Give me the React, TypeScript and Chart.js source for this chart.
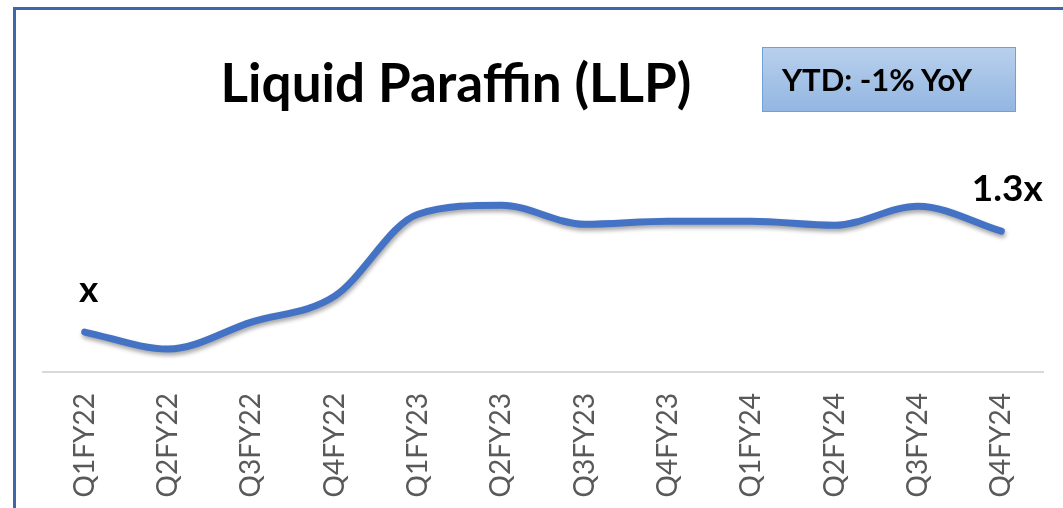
import React, { useEffect, useRef } from "react";
import { Chart, registerables } from "chart.js";

Chart.register(...registerables);

const categories = [
  "Q1FY22", "Q2FY22", "Q3FY22", "Q4FY22",
  "Q1FY23", "Q2FY23", "Q3FY23", "Q4FY23",
  "Q1FY24", "Q2FY24", "Q3FY24", "Q4FY24",
];
const values = [1.0, 0.949, 1.03, 1.108, 1.354, 1.381, 1.324, 1.333, 1.333, 1.321, 1.378, 1.303];
const pointLabels = ["x", "", "", "", "", "", "", "", "", "", "", "1.3x"];
const titleText = "Liquid Paraffin (LLP)";
const badgeText = "YTD: -1% YoY";

const FONT = "Lato, 'Open Sans', sans-serif";

const shadowPlugin = {
  id: "lineShadow",
  beforeDatasetsDraw(chart: any) {
    const ctx = chart.ctx;
    ctx.save();
    ctx.shadowColor = "rgba(0,0,0,0.35)";
    ctx.shadowBlur = 4;
    ctx.shadowOffsetX = 1;
    ctx.shadowOffsetY = 3;
  },
  afterDatasetsDraw(chart: any) {
    chart.ctx.restore();
  },
};

const labelPlugin = {
  id: "pointLabels",
  afterDraw(chart: any) {
    const ctx = chart.ctx;
    const meta = chart.getDatasetMeta(0);
    ctx.save();
    ctx.fillStyle = "#000";
    ctx.font = `bold 37px ${FONT}`;
    ctx.textAlign = "center";
    ctx.textBaseline = "middle";
    meta.data.forEach((pt: any, i: number) => {
      const t = pointLabels[i];
      if (!t) return;
      const dx = i === 0 ? 4 : 6;
      ctx.fillText(t, pt.x + dx, pt.y - 42);
    });
    ctx.restore();
  },
};

export default function App() {
  const ref = useRef<HTMLCanvasElement | null>(null);
  useEffect(() => {
    document.body.style.margin = "0";
    const chart = new Chart(ref.current as HTMLCanvasElement, {
      type: "line",
      data: {
        labels: categories,
        datasets: [
          {
            data: values,
            borderColor: "#4472c4",
            borderWidth: 7,
            borderCapStyle: "round",
            cubicInterpolationMode: "monotone",
            pointRadius: 0,
            fill: false,
          },
        ],
      },
      options: {
        animation: false,
        responsive: false,
        maintainAspectRatio: false,
        layout: { padding: { left: 43, right: 20, top: 139, bottom: 0 } },
        plugins: { legend: { display: false }, tooltip: { enabled: false } },
        scales: {
          x: {
            offset: true,
            grid: { display: false, drawTicks: false },
            border: { display: true, color: "#d9d9d9", width: 2 },
            ticks: {
              color: "#595959",
              font: { family: FONT, size: 28 },
              minRotation: 90,
              maxRotation: 90,
              padding: 21,
              autoSkip: false,
            },
            afterFit: (s: any) => {
              s.height = 136;
            },
          },
          y: {
            display: false,
            min: 0.88,
            max: 1.58,
          },
        },
      },
      plugins: [shadowPlugin, labelPlugin],
    });
    return () => chart.destroy();
  }, []);

  return (
    <div style={{ position: "relative", width: 1063, height: 508, overflow: "hidden", background: "#fff" }}>
      <canvas ref={ref} width={1063} height={508} style={{ position: "absolute", left: 0, top: 0 }} />
      <div
        style={{
          position: "absolute",
          left: 13,
          top: 7,
          width: 1063,
          height: 520,
          borderLeft: "3px solid #3f66a6",
          borderTop: "3px solid #3f66a6",
          pointerEvents: "none",
        }}
      />
      <div
        style={{
          position: "absolute",
          left: 156,
          top: 50,
          width: 600,
          textAlign: "center",
          fontFamily: FONT,
          fontWeight: 700,
          fontSize: 53,
          lineHeight: "64px",
          color: "#000",
          whiteSpace: "nowrap",
        }}
      >
        {titleText}
      </div>
      <div
        style={{
          position: "absolute",
          left: 762,
          top: 47,
          width: 254,
          height: 65,
          boxSizing: "border-box",
          border: "1px solid #6fa0d8",
          background: "linear-gradient(#b8d0ec, #93b6e2)",
          fontFamily: FONT,
          fontWeight: 700,
          fontSize: 31,
          lineHeight: "63px",
          paddingLeft: 19,
          color: "#000",
          whiteSpace: "nowrap",
        }}
      >
        {badgeText}
      </div>
    </div>
  );
}
